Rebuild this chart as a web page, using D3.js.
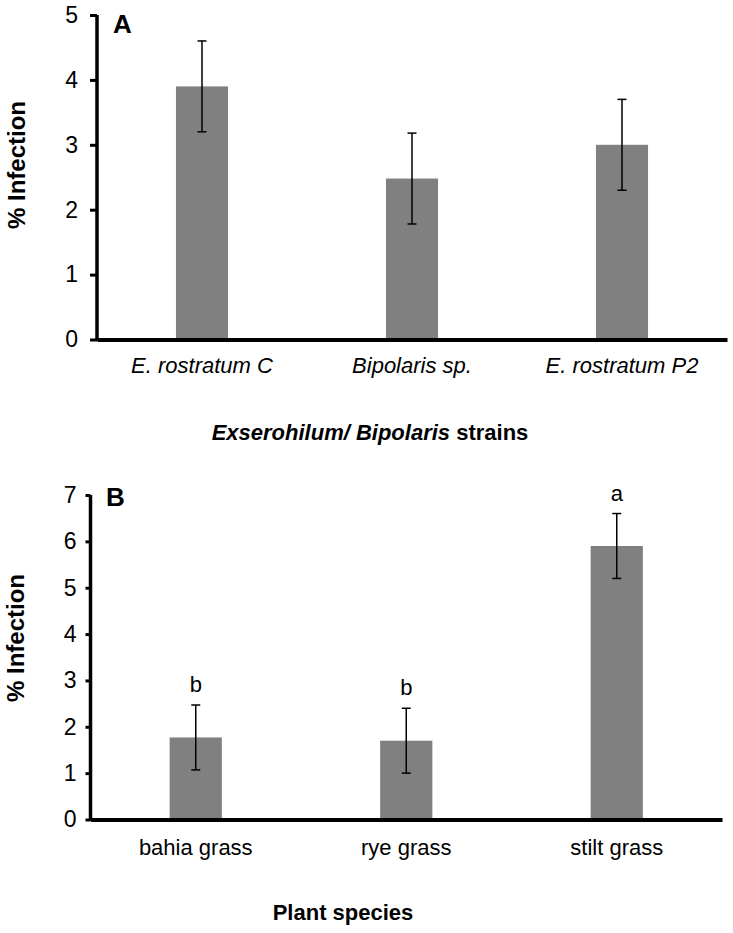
<!DOCTYPE html>
<html><head><meta charset="utf-8">
<script src="https://cdn.jsdelivr.net/npm/d3@7"></script>
<style>
html,body{margin:0;padding:0;background:#fff;}
svg{display:block;font-family:"Liberation Sans",Arial,sans-serif;}
</style></head>
<body><svg id="c" width="733" height="933"></svg>
<script>
// Panel A data
const catsA = ["E. rostratum C", "Bipolaris sp.", "E. rostratum P2"];
const valsA = [3.9, 2.48, 3.0];
const errA = [0.7, 0.7, 0.7];
const ticksA = [0, 1, 2, 3, 4, 5];
// Panel B data
const catsB = ["bahia grass", "rye grass", "stilt grass"];
const valsB = [1.77, 1.7, 5.9];
const errB = [0.7, 0.7, 0.7];
const lettersB = ["b", "b", "a"];
const ticksB = [0, 1, 2, 3, 4, 5, 6, 7];

const svg = d3.select("#c");
const FF = "Liberation Sans, Arial, sans-serif";

function panel(cfg) {
  const g = svg.append("g");
  const x = d3.scaleBand().domain(cfg.cats).range(cfg.xr).padding(0);
  const y = d3.scaleLinear().domain([0, cfg.max]).range(cfg.yr);
  const bw = x.bandwidth() * 0.248;
  g.selectAll("rect.bar").data(cfg.cats).join("rect")
    .attr("x", d => x(d) + x.bandwidth() / 2 - bw / 2)
    .attr("y", (d, i) => y(cfg.vals[i]))
    .attr("width", bw)
    .attr("height", (d, i) => y(0) - y(cfg.vals[i]))
    .attr("fill", "#808080");
  const eg = g.append("g").attr("stroke", "#000").attr("stroke-width", 1.5);
  cfg.cats.forEach((d, i) => {
    const cx = x(d) + x.bandwidth() / 2;
    const hi = y(cfg.vals[i] + cfg.err[i]), lo = y(cfg.vals[i] - cfg.err[i]);
    eg.append("line").attr("x1", cx).attr("x2", cx).attr("y1", hi).attr("y2", lo);
    eg.append("line").attr("x1", cx - 4.5).attr("x2", cx + 4.5).attr("y1", hi).attr("y2", hi);
    eg.append("line").attr("x1", cx - 4.5).attr("x2", cx + 4.5).attr("y1", lo).attr("y2", lo);
    if (cfg.letters) {
      g.append("text").attr("x", cx).attr("y", hi - 13)
        .attr("text-anchor", "middle").attr("font-size", 22).text(cfg.letters[i]);
    }
  });
  const ya = g.append("g").attr("transform", `translate(${cfg.xr[0]},0)`)
    .call(d3.axisLeft(y).tickValues(cfg.ticks).tickFormat(d3.format("d"))
      .tickSize(cfg.tick).tickSizeOuter(0).tickPadding(cfg.pad));
  ya.select(".domain").attr("stroke-width", 3.5).attr("d", `M0,${cfg.yr[0] + 1.5}V${cfg.yr[1]}`);
  ya.selectAll(".tick line").attr("stroke-width", 3);
  ya.selectAll(".tick text").attr("font-size", 23).attr("font-family", FF).attr("fill", "#000");
  const xa = g.append("g").attr("transform", `translate(0,${cfg.yr[0]})`)
    .call(d3.axisBottom(x).tickSize(0).tickPadding(cfg.xpad).tickSizeOuter(0));
  xa.select(".domain").attr("stroke-width", 4);
  xa.selectAll(".tick text").attr("font-size", 22).attr("font-family", FF)
    .attr("fill", "#000").attr("font-style", cfg.italic ? "italic" : "normal");
  g.append("text").attr("x", cfg.letterPos[0]).attr("y", cfg.letterPos[1])
    .attr("font-size", 26).attr("font-weight", "bold").text(cfg.letter);
  g.append("text").attr("transform", `translate(${cfg.ytPos[0]},${cfg.ytPos[1]}) rotate(-90)`)
    .attr("text-anchor", "middle").attr("font-size", 24).attr("font-weight", "bold").text("% Infection");
  return g;
}

const gA = panel({cats: catsA, vals: valsA, err: errA, ticks: ticksA, max: 5,
  xr: [97, 727], yr: [339.5, 15], tick: 7, pad: 12, xpad: 18, italic: true,
  letter: "A", letterPos: [113, 33], ytPos: [25, 165]});
const tA = gA.append("text").attr("x", 370).attr("y", 440).attr("text-anchor", "middle")
  .attr("font-size", 22).attr("font-weight", "bold");
tA.append("tspan").attr("font-style", "italic").text("Exserohilum/ Bipolaris");
tA.append("tspan").text(" strains");

const gB = panel({cats: catsB, vals: valsB, err: errB, ticks: ticksB, max: 7, letters: lettersB,
  xr: [90.5, 722], yr: [819.5, 495], tick: 5, pad: 9, xpad: 20, italic: false,
  letter: "B", letterPos: [106, 506], ytPos: [24, 638]});
gB.append("text").attr("x", 343).attr("y", 920).attr("text-anchor", "middle")
  .attr("font-size", 22).attr("font-weight", "bold").text("Plant species");
</script>
</body></html>
